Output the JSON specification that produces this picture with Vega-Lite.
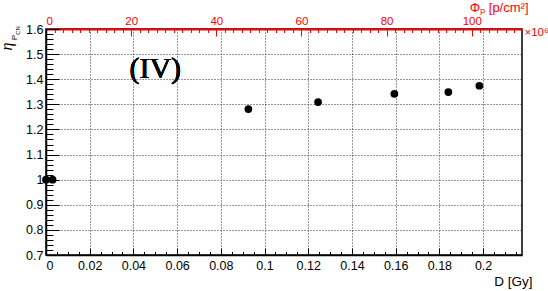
{
  "$schema": "https://vega.github.io/schema/vega-lite/v6.json",
  "width": 476,
  "height": 226,
  "autosize": {"type": "none"},
  "padding": {"left": 46, "top": 29, "right": 26, "bottom": 36},
  "background": "white",
  "config": {
    "view": {"stroke": "black", "strokeWidth": 1.5},
    "font": "Liberation Sans",
    "axis": {"labelFont": "Liberation Sans", "titleFont": "Liberation Sans", "labelColor": "black", "titleColor": "black", "titleFontWeight": "normal"}
  },
  "data": {"values": [
    {"D": 0.0, "eta": 1.0},
    {"D": 0.003, "eta": 1.0},
    {"D": 0.0926, "eta": 1.281},
    {"D": 0.1245, "eta": 1.309},
    {"D": 0.1594, "eta": 1.342},
    {"D": 0.1841, "eta": 1.349},
    {"D": 0.1983, "eta": 1.374}
  ]},
  "layer": [
    {
      "encoding": {
        "x": {"field": "D", "type": "quantitative",
          "scale": {"domain": [0, 0.2178], "nice": false, "zero": false},
          "axis": {"orient": "bottom", "values": [0, 0.02, 0.04, 0.06, 0.08, 0.1, 0.12, 0.14, 0.16, 0.18, 0.2], "format": "~g",
            "labelFontSize": 12.5, "labelPadding": 11, "tickSize": -7, "tickColor": "black", "tickWidth": 1,
            "domainColor": "black", "domainWidth": 1.5,
            "grid": true, "gridDash": [1, 2], "gridColor": "#333", "gridWidth": 1,
            "title": "D [Gy]", "titleFontSize": 13.5, "titleAnchor": "end", "titleAlign": "right", "titleBaseline": "alphabetic", "titleX": 486, "titleY": 30}},
        "y": {"field": "eta", "type": "quantitative",
          "scale": {"domain": [0.7, 1.6], "nice": false, "zero": false},
          "axis": {"orient": "left", "values": [0.7, 0.8, 0.9, 1.0, 1.1, 1.2, 1.3, 1.4, 1.5, 1.6], "format": "~g",
            "labelFontSize": 12.5, "labelPadding": 16, "tickSize": -13, "tickColor": "black", "tickWidth": 1,
            "domainColor": "black", "domainWidth": 1.5,
            "grid": true, "gridDash": [1, 2], "gridColor": "#333", "gridWidth": 1,
            "title": "η", "titleFont": "Liberation Serif", "titleFontStyle": "italic", "titleFontSize": 16, "titleAngle": -90, "titleAlign": "center", "titleBaseline": "alphabetic", "titleX": -35, "titleY": 17}}
      },
      "layer": [
        {"mark": {"type": "circle", "size": 60, "fill": "black", "stroke": null, "opacity": 1}},
        {"mark": {"type": "text", "text": "(IV)", "font": "Liberation Serif", "fontSize": 30, "fontWeight": "normal", "fill": "black", "stroke": null, "strokeWidth": 0, "align": "center", "baseline": "middle"},
         "encoding": {"x": {"datum": 0.05}, "y": {"datum": 1.44}}}
      ]
    },
    {
      "mark": {"type": "point", "opacity": 0},
      "encoding": {
        "x": {"datum": 0.1, "type": "quantitative", "scale": {"domain": [0, 0.2178], "nice": false, "zero": false},
          "axis": {"orient": "bottom", "values": [0.005, 0.01, 0.015, 0.025, 0.03, 0.035, 0.045, 0.05, 0.055, 0.065, 0.07, 0.075, 0.085, 0.09, 0.095, 0.105, 0.11, 0.115, 0.125, 0.13, 0.135, 0.145, 0.15, 0.155, 0.165, 0.17, 0.175, 0.185, 0.19, 0.195, 0.205, 0.21, 0.215],
            "labels": false, "domain": false, "grid": false, "tickSize": -3.5, "tickColor": "black", "tickWidth": 1, "title": null}},
        "y": {"datum": 1.0, "type": "quantitative", "scale": {"domain": [0.7, 1.6], "nice": false, "zero": false},
          "axis": {"orient": "left", "values": [0.72, 0.74, 0.76, 0.78, 0.82, 0.84, 0.86, 0.88, 0.92, 0.94, 0.96, 0.98, 1.02, 1.04, 1.06, 1.08, 1.12, 1.14, 1.16, 1.18, 1.22, 1.24, 1.26, 1.28, 1.32, 1.34, 1.36, 1.38, 1.42, 1.44, 1.46, 1.48, 1.52, 1.54, 1.56, 1.58],
            "labels": false, "domain": false, "grid": false, "tickSize": -7, "tickColor": "black", "tickWidth": 1,
            "title": "P", "titleFont": "Liberation Sans", "titleFontSize": 8, "titleAngle": -90, "titleAlign": "center", "titleBaseline": "alphabetic", "titleX": -30, "titleY": 8}}
      }
    },
    {
      "mark": {"type": "point", "opacity": 0},
      "encoding": {
        "x": {"datum": 50, "type": "quantitative", "scale": {"domain": [0, 111.8], "nice": false, "zero": false},
          "axis": {"orient": "top", "values": [0, 20, 40, 60, 80, 100], "format": "d",
            "labelFontSize": 11.5, "labelColor": "#ff0000", "labelPadding": 10, "tickSize": -7, "tickColor": "#ff0000", "tickWidth": 1,
            "domainColor": "#ff0000", "domainWidth": 2, "grid": false,
            "title": "Φₚ [p/cm²]", "titleColor": "#ff0000", "titleFontSize": 13, "titleAnchor": "end", "titleAlign": "right", "titleBaseline": "alphabetic", "titleX": 482, "titleY": -18}},
        "y": {"datum": 1.0, "type": "quantitative", "scale": {"domain": [0.7, 1.6], "nice": false, "zero": false},
          "axis": {"orient": "left", "labels": false, "ticks": false, "domain": false, "grid": false,
            "title": "CN", "titleFont": "Liberation Sans", "titleFontSize": 6, "titleAngle": -90, "titleAlign": "center", "titleBaseline": "alphabetic", "titleX": -27, "titleY": 1}}
      }
    },
    {
      "mark": {"type": "point", "opacity": 0},
      "encoding": {
        "x": {"datum": 50, "type": "quantitative", "scale": {"domain": [0, 111.8], "nice": false, "zero": false},
          "axis": {"orient": "top", "values": [2, 4, 6, 8, 10, 12, 14, 16, 18, 22, 24, 26, 28, 30, 32, 34, 36, 38, 42, 44, 46, 48, 50, 52, 54, 56, 58, 62, 64, 66, 68, 70, 72, 74, 76, 78, 82, 84, 86, 88, 90, 92, 94, 96, 98, 102, 104, 106, 108, 110],
            "labels": false, "domain": false, "grid": false, "tickSize": -3.5, "tickColor": "#ff0000", "tickWidth": 1,
            "title": "×10⁶", "titleColor": "#ff0000", "titleFontSize": 11.5, "titleAnchor": "start", "titleAlign": "left", "titleBaseline": "alphabetic", "titleX": 478, "titleY": 6}}
      }
    }
  ],
  "resolve": {"scale": {"x": "independent", "y": "independent"}, "axis": {"x": "independent", "y": "independent"}}
}
